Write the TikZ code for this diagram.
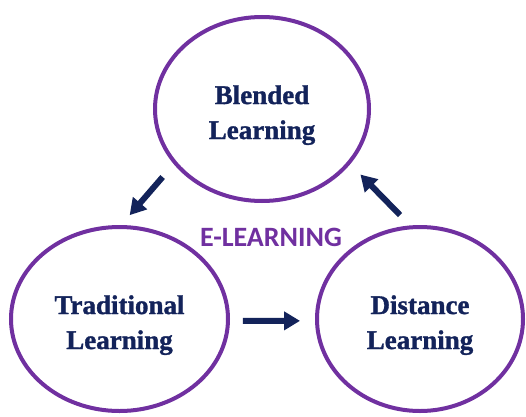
\documentclass[tikz,border=0pt]{standalone}
\usepackage{fontspec}
\setmainfont{Liberation Serif}[BoldFeatures={FakeBold=1.2}]
\newfontfamily\calibri{Carlito}
\usepackage{tikz}
\usetikzlibrary{arrows.meta,positioning,shapes.geometric}

\definecolor{ink}{HTML}{13235A}
\definecolor{ring}{HTML}{7030A0}

\begin{document}
\begin{tikzpicture}[x=1pt,y=1pt,
    stage/.style={ellipse,draw=ring,line width=4pt,inner sep=0pt,
        minimum height=184pt,align=center,text=ink,text height=66pt,
        font=\fontsize{27}{35}\selectfont\bfseries},
    flow/.style={draw=ink,line width=6pt,-{Triangle[length=16pt,width=18pt]}}]
    \useasboundingbox (0,0) rectangle (526,416);

    % The three kinds of learning
    \node[stage,minimum width=214pt] (blended) at (262,307) {Blended\\Learning};
    \node[stage,minimum width=217pt] (traditional) at (119.5,97) {Traditional\\Learning};
    \node[stage,minimum width=206pt] (distance) at (420,97) {Distance\\Learning};

    % Title in the middle
    \node[text=ring,font=\calibri\fontsize{28}{32}\selectfont\bfseries] (title) at (271,178.5) {E-LEARNING};

    % Cycle arrows
    \draw[flow,shorten <=17pt,shorten >=13pt] (blended.212) -- (traditional.89);
    \draw[flow,shorten <=13pt,shorten >=15pt] (traditional.-1.5) -- (distance.181.5);
    \draw[flow,shorten <=14.5pt,shorten >=14.5pt] (distance.96) -- (blended.328);
\end{tikzpicture}
\end{document}
